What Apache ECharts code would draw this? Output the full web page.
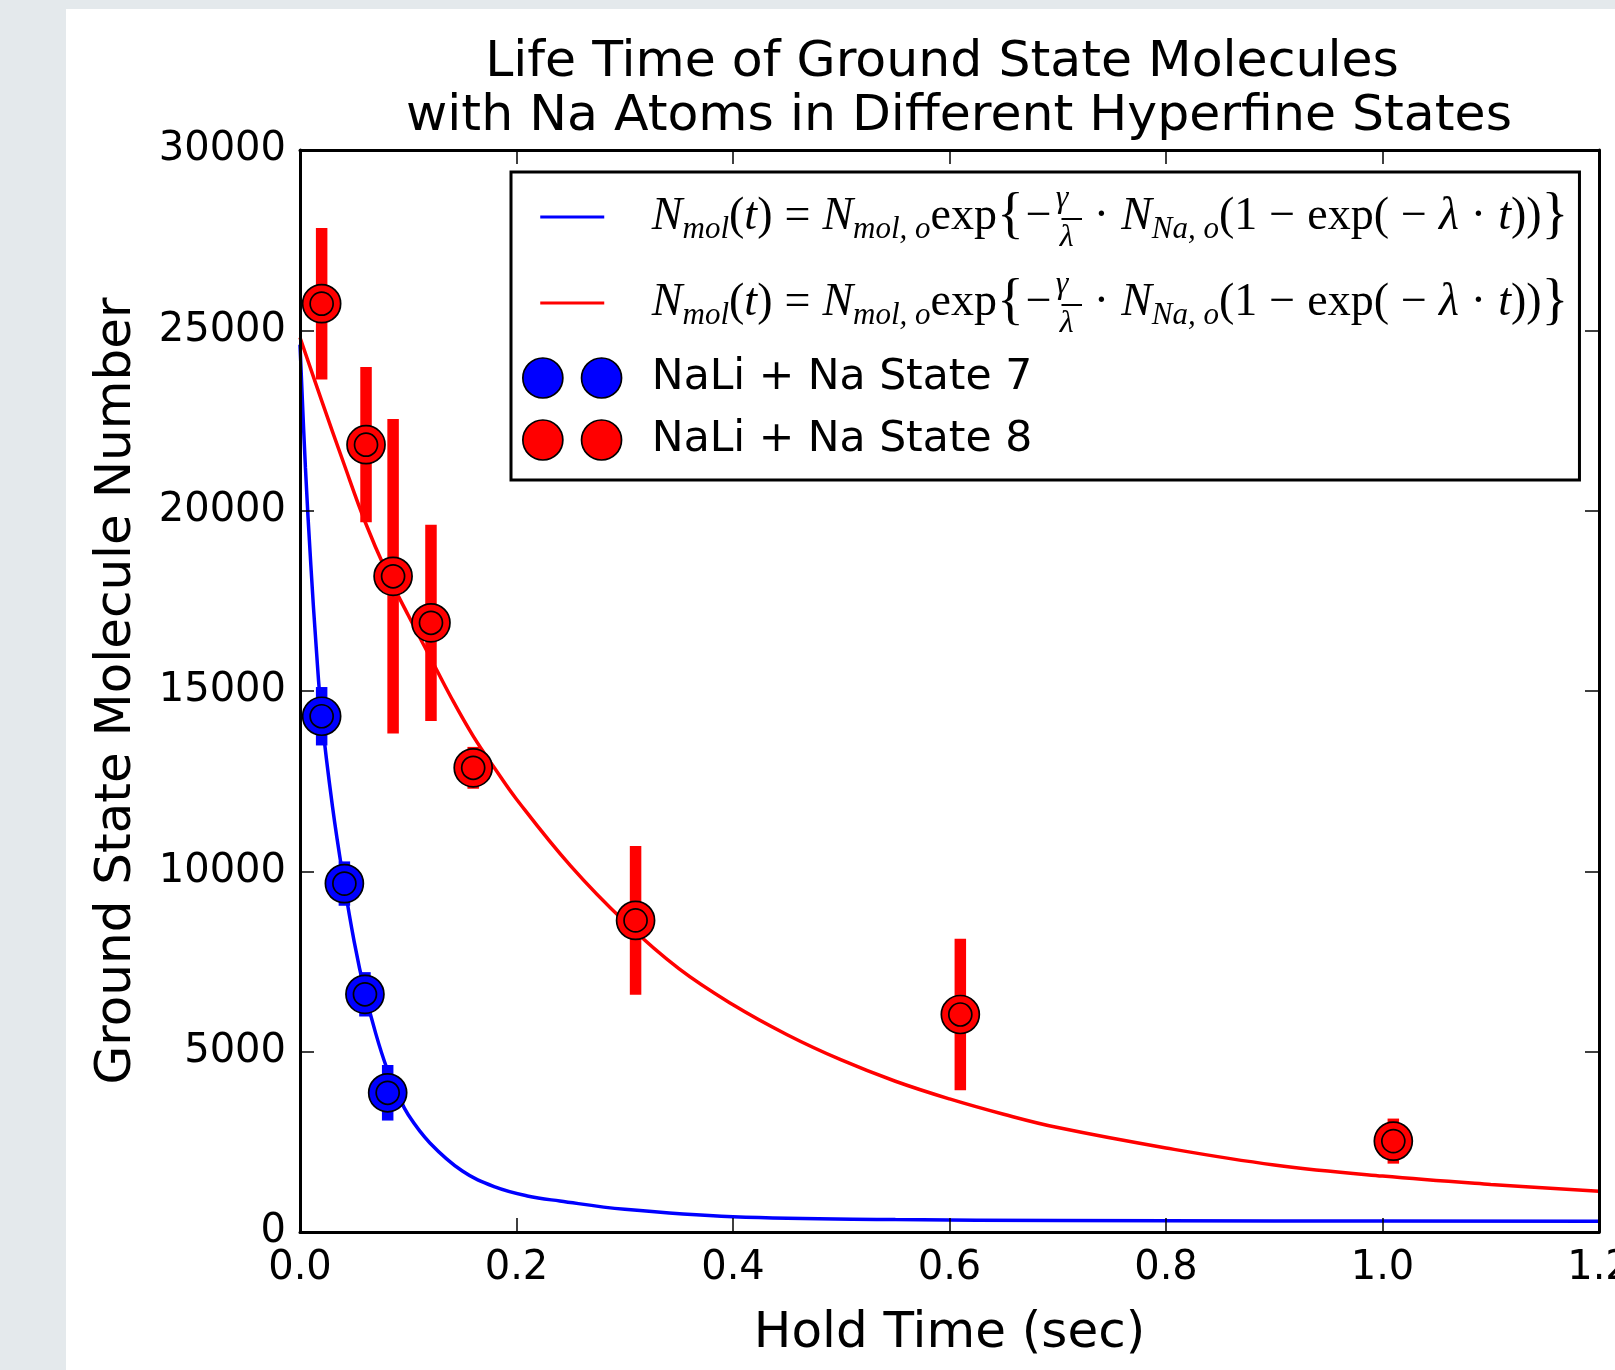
<!DOCTYPE html>
<html><head><meta charset="utf-8">
<script src="https://cdn.jsdelivr.net/npm/echarts@6/dist/echarts.min.js"></script>
<style>html,body{margin:0;padding:0;background:#e4e9ec}#c{width:1615px;height:1370px}</style>
</head><body><div id="c"></div>
<script>
// ---- axes ----
const xMin = 0, xMax = 1.2, xStep = 0.2;
const yMin = 0, yMax = 30000, yStep = 5000;
const xTickLabels = ['0.0', '0.2', '0.4', '0.6', '0.8', '1.0', '1.2'];
const yTickLabels = ['0', '5000', '10000', '15000', '20000', '25000', '30000'];
const titleLines = ['Life Time of Ground State Molecules', 'with Na Atoms in Different Hyperfine States'];

// ---- measured points (hold time in s, molecule number, error) ----
const state7Time  = [0.020, 0.041, 0.060, 0.081];
const state7Count = [14300, 9660, 6590, 3860];
const state7Err   = [810, 615, 615, 770];

const state8Time  = [0.020, 0.061, 0.086, 0.121, 0.160, 0.310, 0.610, 1.010];
const state8Count = [25740, 21830, 18180, 16890, 12870, 8640, 6030, 2520];
const state8Err   = [2100, 2150, 4360, 2720, 580, 2065, 2100, 625];

// ---- fitted curves ----
const fit7Time  = [0, 0.005, 0.01, 0.015, 0.02, 0.03, 0.04, 0.05, 0.06, 0.07, 0.08, 0.09, 0.10, 0.12, 0.15, 0.18, 0.21, 0.24, 0.30, 0.40, 0.55, 0.70, 0.90, 1.20];
const fit7Count = [24600, 21200, 18500, 16200, 14300, 11800, 9800, 8060, 6640, 5500, 4560, 3850, 3250, 2470, 1690, 1250, 1000, 860, 630, 425, 345, 320, 305, 300];

const fit8Time  = [0, 0.02, 0.04, 0.06, 0.08, 0.10, 0.12, 0.14, 0.16, 0.18, 0.20, 0.25, 0.30, 0.35, 0.40, 0.45, 0.50, 0.55, 0.60, 0.65, 0.70, 0.80, 0.90, 1.00, 1.10, 1.20];
const fit8Count = [24800, 23050, 21350, 19700, 18300, 17100, 15950, 14800, 13750, 12850, 12000, 10150, 8600, 7300, 6300, 5470, 4770, 4180, 3690, 3265, 2895, 2330, 1860, 1550, 1320, 1130];

const BLUE = '#0000ff', RED = '#ff0000';
const SANS = 'DejaVu Sans', SERIF = 'Liberation Serif';

const pairs = (xs, ys) => xs.map((x, i) => [x, ys[i]]);
const errData = (xs, ys, es) => xs.map((x, i) => [x, ys[i] - es[i], ys[i] + es[i]]);

const fitLabel =
  '{i|N}{s|mol}{r|(}{i|t}{r|)}{op|=}{i|N}{s|mol, o}{r|exp}{{u|−}{fn|γ}{fd|λ}{fb|–}{op|·}' +
  '{i|N}{s|Na, o}{r|(1}{op|−}{r|exp(}{op|−}{i|λ}{op|·}{i|t}{r|))}}';

const lineIcon = 'path://M0,0h0.01M124,40h0.01M17.4,18.5h64v3h-64z';
const dotsIcon = 'path://M0,0h0.01M124,40h0.01M0,20a20,20 0 1,0 40,0a20,20 0 1,0 -40,0zM58.7,20a20,20 0 1,0 40,0a20,20 0 1,0 -40,0z';

function errRender(color) {
  return function (params, api) {
    const top = api.coord([api.value(0), api.value(2)]);
    const bot = api.coord([api.value(0), api.value(1)]);
    const w = 11.5;
    return { type: 'rect', shape: { x: top[0] - w / 2, y: top[1], width: w, height: bot[1] - top[1] },
             style: { fill: color } };
  };
}

const axisCommon = {
  type: 'value', z: 10,
  axisLine: { show: true, onZero: false, lineStyle: { color: '#000', width: 3 } },
  axisTick: { show: true, inside: true, length: 14, lineStyle: { color: '#000', width: 1.5 } },
  splitLine: { show: false }
};
const titleStyle = { fontFamily: SANS, fontSize: 50.5, fontWeight: 'normal', color: '#000', lineHeight: 54 };
const FL = 70;

const chart = echarts.init(document.getElementById('c'), null, { renderer: 'canvas' });
chart.setOption({
  animation: false,
  backgroundColor: '#e4e9ec',
  graphic: [{ type: 'rect', z: -100, silent: true, shape: { x: 66, y: 9, width: 1549, height: 1361 }, style: { fill: '#ffffff' } }],
  title: [
    { text: titleLines[0], left: 942, top: 36, textAlign: 'center', padding: 0, textStyle: titleStyle },
    { text: titleLines[1], left: 959, top: 90, textAlign: 'center', padding: 0, textStyle: titleStyle }
  ],
  grid: { left: 300, right: 16, top: 150, bottom: 138, containLabel: false, outerBoundsMode: 'none' },
  xAxis: [
    Object.assign({}, axisCommon, {
      min: xMin, max: xMax, interval: xStep, position: 'bottom',
      name: 'Hold Time (sec)', nameLocation: 'middle', nameGap: 77,
      nameTextStyle: { fontFamily: SANS, fontSize: 50, color: '#000' },
      axisLabel: { margin: 17, fontFamily: SANS, fontSize: 40, color: '#000',
                   formatter: v => xTickLabels[Math.round((v - xMin) / xStep)] }
    }),
    Object.assign({}, axisCommon, { min: xMin, max: xMax, interval: xStep, position: 'top', axisLabel: { show: false } })
  ],
  yAxis: [
    Object.assign({}, axisCommon, {
      min: yMin, max: yMax, interval: yStep, position: 'left',
      name: 'Ground State Molecule Number', nameLocation: 'middle', nameGap: 158,
      nameTextStyle: { fontFamily: SANS, fontSize: 50, color: '#000' },
      axisLabel: { margin: 14, fontFamily: SANS, fontSize: 40, color: '#000',
                   formatter: v => yTickLabels[Math.round((v - yMin) / yStep)] }
    }),
    Object.assign({}, axisCommon, { min: yMin, max: yMax, interval: yStep, position: 'right', axisLabel: { show: false } })
  ],
  legend: {
    orient: 'vertical', left: 511, top: 172,
    padding: [10, 11, 16, 11],
    itemWidth: 124, itemHeight: 40, itemGap: 14,
    backgroundColor: '#ffffff', borderColor: '#000', borderWidth: 3, borderRadius: 0,
    selectedMode: false,
    data: [
      { name: 'fit7', icon: lineIcon, itemStyle: { color: BLUE, borderWidth: 0 } },
      { name: 'fit8', icon: lineIcon, itemStyle: { color: RED, borderWidth: 0 } },
      { name: 'NaLi + Na State 7', icon: dotsIcon, itemStyle: { color: BLUE, borderColor: '#000', borderWidth: 1.7 } },
      { name: 'NaLi + Na State 8', icon: dotsIcon, itemStyle: { color: RED, borderColor: '#000', borderWidth: 1.7 } }
    ],
    formatter: name => name.indexOf('fit') === 0 ? fitLabel : '{nm|' + name + '}',
    textStyle: {
      fontFamily: SERIF, fontSize: 56, color: '#000', lineHeight: FL,
      rich: {
        i:  { fontFamily: SERIF, fontStyle: 'italic', fontSize: 46, lineHeight: FL },
        r:  { fontFamily: SERIF, fontSize: 46, lineHeight: FL },
        op: { fontFamily: SERIF, fontSize: 46, lineHeight: FL, padding: [0, 12, 0, 12] },
        u:  { fontFamily: SERIF, fontSize: 46, lineHeight: FL, padding: [0, 2, 0, 2] },
        s:  { fontFamily: SERIF, fontStyle: 'italic', fontSize: 31, lineHeight: FL, height: 20, padding: [26, 0, 0, 0] },
        fn: { fontFamily: SERIF, fontStyle: 'italic', fontSize: 32, lineHeight: FL, height: 20, width: 0, padding: [0, 2, 36, 2] },
        fd: { fontFamily: SERIF, fontStyle: 'italic', fontSize: 32, lineHeight: FL, height: 10, width: 0, padding: [42, 2, 0, 2] },
        fb: { fontFamily: SERIF, fontSize: 40, lineHeight: FL },
        nm: { fontFamily: SANS, fontSize: 42.5, lineHeight: 48 }
      }
    }
  },
  series: [
    { name: 'fit7', type: 'line', data: pairs(fit7Time, fit7Count), symbol: 'none', smooth: 0.4,
      lineStyle: { color: BLUE, width: 3.5 }, itemStyle: { color: BLUE }, z: 2, silent: true },
    { name: 'fit8', type: 'line', data: pairs(fit8Time, fit8Count), symbol: 'none', smooth: 0.4,
      lineStyle: { color: RED, width: 3.5 }, itemStyle: { color: RED }, z: 2, silent: true },
    { name: 'err7', type: 'custom', renderItem: errRender(BLUE), data: errData(state7Time, state7Count, state7Err),
      encode: { x: 0, y: [1, 2] }, z: 3, silent: true },
    { name: 'err8', type: 'custom', renderItem: errRender(RED), data: errData(state8Time, state8Count, state8Err),
      encode: { x: 0, y: [1, 2] }, z: 3, silent: true },
    { name: 'NaLi + Na State 7', type: 'scatter', data: pairs(state7Time, state7Count), symbol: 'circle', symbolSize: 38,
      itemStyle: { color: BLUE, borderColor: '#000', borderWidth: 1.7, opacity: 1 }, z: 4, silent: true },
    { name: 'NaLi + Na State 8', type: 'scatter', data: pairs(state8Time, state8Count), symbol: 'circle', symbolSize: 38,
      itemStyle: { color: RED, borderColor: '#000', borderWidth: 1.7, opacity: 1 }, z: 4, silent: true },
    { name: 'inner7', type: 'scatter', data: pairs(state7Time, state7Count), symbol: 'circle', symbolSize: 23,
      itemStyle: { color: BLUE, borderColor: '#000', borderWidth: 1.7, opacity: 1 }, z: 5, silent: true },
    { name: 'inner8', type: 'scatter', data: pairs(state8Time, state8Count), symbol: 'circle', symbolSize: 23,
      itemStyle: { color: RED, borderColor: '#000', borderWidth: 1.7, opacity: 1 }, z: 5, silent: true }
  ]
});
</script>
</body></html>
